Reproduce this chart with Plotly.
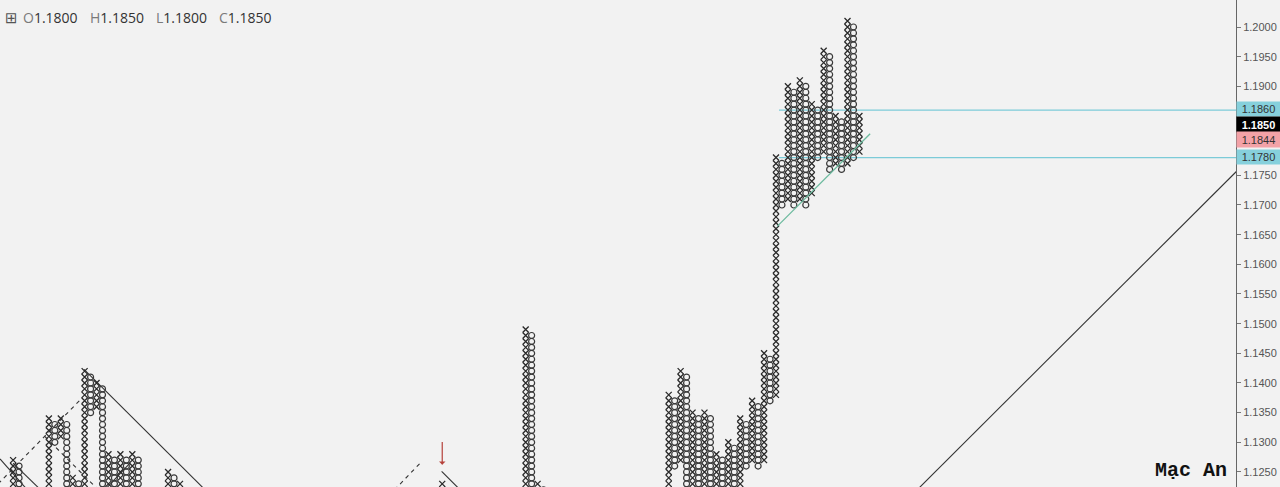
import plotly.graph_objects as go
import numpy as np

BOX = 0.001

# Point & Figure columns: index, type, low box, high box
col_index = [2, 3, 8, 9, 10, 11, 12, 13, 14, 15, 16, 17, 18, 19, 20, 21, 22, 23, 28, 29, 30,
             74, 88, 89, 90, 91,
             112, 113, 114, 115, 116, 117, 118, 119, 120, 121, 122, 123, 124, 125, 126, 127, 128, 129,
             130, 131, 132, 133, 134, 135, 136, 137, 138, 139, 140, 141, 142, 143, 144]
col_type = ["X", "O", "X", "O", "X", "O", "X", "O", "X", "O", "X", "O", "X", "O", "X", "O", "X", "O", "X", "O", "X",
            "X", "X", "O", "X", "O",
            "X", "O", "X", "O", "X", "O", "X", "O", "X", "O", "X", "O", "X", "O", "X", "O", "X", "O",
            "X", "O", "X", "O", "X", "O", "X", "O", "X", "O", "X", "O", "X", "O", "X"]
col_low = [1.120, 1.120, 1.120, 1.130, 1.131, 1.121, 1.122, 1.121, 1.122, 1.135, 1.136, 1.121, 1.122, 1.121, 1.122, 1.121, 1.122, 1.121, 1.120, 1.120, 1.120,
           1.120, 1.120, 1.122, 1.123, 1.120,
           1.120, 1.126, 1.127, 1.120, 1.121, 1.120, 1.121, 1.120, 1.121, 1.120, 1.121, 1.120, 1.121, 1.126, 1.127, 1.126, 1.127, 1.137,
           1.138, 1.170, 1.171, 1.170, 1.171, 1.170, 1.172, 1.178, 1.179, 1.176, 1.177, 1.176, 1.177, 1.178, 1.179]
col_high = [1.127, 1.126, 1.134, 1.133, 1.134, 1.133, 1.124, 1.123, 1.142, 1.141, 1.140, 1.139, 1.128, 1.127, 1.128, 1.127, 1.128, 1.127, 1.125, 1.124, 1.123,
            1.123, 1.149, 1.148, 1.123, 1.122,
            1.138, 1.137, 1.142, 1.141, 1.135, 1.134, 1.135, 1.134, 1.128, 1.127, 1.130, 1.129, 1.134, 1.133, 1.137, 1.136, 1.145, 1.144,
            1.178, 1.177, 1.190, 1.189, 1.191, 1.190, 1.187, 1.186, 1.196, 1.195, 1.185, 1.184, 1.201, 1.200, 1.185]

# Trendlines (column index, price) start/end
solid_lines = [
    ((-0.2, 1.1272), (4.2, 1.1222)),
    ((2.0, 1.1265), (6.6, 1.1220)),
    ((13.9, 1.1423), (35.0, 1.1212)),
    ((17.6, 1.1222), (21.6, 1.1265)),
    ((73.9, 1.1251), (77.2, 1.1218)),
    ((153.0, 1.1213), (208.0, 1.1764)),
]
dashed_lines = [
    ((-0.5, 1.1230), (13.6, 1.1375)),
    ((7.3, 1.1310), (16.5, 1.1218)),
    ((66.0, 1.1220), (70.6, 1.1268)),
]
green_line = ((130.2, 1.1664), (145.8, 1.1820))
hlines = [1.186, 1.178]
hline_start = 130.5

ticks = [round(1.125 + 0.005 * k, 4) for k in range(16)]
hidden_tick_labels = [1.180, 1.185]

S = 5.96
PLOT_W = 1236
x0 = -0.2
x1 = x0 + PLOT_W / S
PX = 5933.0
ytop = 1.2 + 27 / PX
ybot = ytop - 487 / PX

fig = go.Figure()

# horizontal levels (behind)
for h in hlines:
    fig.add_trace(go.Scatter(x=[hline_start, x1 + 5], y=[h, h], mode="lines",
                             line=dict(color="#7ccbd8", width=1.2), hoverinfo="skip", showlegend=False))

for (a, b) in solid_lines:
    fig.add_trace(go.Scatter(x=[a[0], b[0]], y=[a[1], b[1]], mode="lines",
                             line=dict(color="#333333", width=1.1), hoverinfo="skip", showlegend=False))
for (a, b) in dashed_lines:
    fig.add_trace(go.Scatter(x=[a[0], b[0]], y=[a[1], b[1]], mode="lines",
                             line=dict(color="#333333", width=1.1, dash="4px,4px"), hoverinfo="skip", showlegend=False))

xs_x, ys_x, xs_o, ys_o = [], [], [], []
for i, t, lo, hi in zip(col_index, col_type, col_low, col_high):
    n0 = int(round(lo / BOX))
    n1 = int(round(hi / BOX))
    for n in range(n0, n1 + 1):
        if t == "X":
            xs_x.append(i); ys_x.append(n * BOX)
        else:
            xs_o.append(i); ys_o.append(n * BOX)

fig.add_trace(go.Scatter(x=xs_o, y=ys_o, mode="markers",
                         marker=dict(symbol="circle-open", size=6, color="#3a3a3a", line=dict(width=1.2, color="#3a3a3a")),
                         hoverinfo="skip", showlegend=False))
fig.add_trace(go.Scatter(x=xs_x, y=ys_x, mode="markers",
                         marker=dict(symbol="x-thin", size=6, color="#2a2a2a", line=dict(width=1.3, color="#2a2a2a")),
                         hoverinfo="skip", showlegend=False))

fig.add_trace(go.Scatter(x=[green_line[0][0], green_line[1][0]], y=[green_line[0][1], green_line[1][1]],
                         mode="lines", line=dict(color="#6dbb9f", width=1.3), hoverinfo="skip", showlegend=False))

ann = []
# red arrow
ann.append(dict(x=74, y=1.1262, ax=74, ay=1.1303, xref="x", yref="y", axref="x", ayref="y",
                showarrow=True, arrowhead=1, arrowsize=0.9, arrowwidth=1.2, arrowcolor="#b5403a", text=""))

# axis price labels
labels = [("1.1860", 1.1862, "#86d0dc", "#333333", False, 14),
          ("1.1850", 1.18355, "#000000", "#ffffff", True, 15),
          ("1.1844", 1.18103, "#f3a2a7", "#333333", False, 15),
          ("1.1780", 1.1781, "#86d0dc", "#333333", False, 14)]
for txt, yv, bg, fc, bold, hgt in labels:
    ann.append(dict(x=1, y=yv, xref="paper", yref="y", xanchor="left", yanchor="middle",
                    text=("<b>%s</b>" % txt) if bold else txt, showarrow=False,
                    bgcolor=bg, width=43, height=hgt, borderpad=0, align="center",
                    font=dict(family="Liberation Sans, Arial", size=11, color=fc)))

# header
def px_to_paper_x(p):
    return p / PLOT_W

hy = 1 - 18 / 487
ann.append(dict(x=px_to_paper_x(3), y=hy, xref="paper", yref="paper", xanchor="left", yanchor="middle",
                text="⊞", showarrow=False, font=dict(family="DejaVu Sans", size=15, color="#555555")))
items = [("O", "1.1800", 21), ("H", "1.1850", 88), ("L", "1.1800", 154), ("C", "1.1850", 217)]
for lab, val, xp in items:
    ann.append(dict(x=px_to_paper_x(xp), y=hy, xref="paper", yref="paper", xanchor="left", yanchor="middle",
                    text="<span style='color:#7a7a7a'>%s</span>%s" % (lab, val), showarrow=False,
                    font=dict(family="Open Sans, Noto Sans", size=14, color="#333333")))

# watermark
ann.append(dict(x=px_to_paper_x(1229), y=1 - 470 / 487, xref="paper", yref="paper", xanchor="right", yanchor="middle",
                text="<b>Mạc An</b>", showarrow=False,
                font=dict(family="Liberation Mono, Courier New", size=20, color="#111111")))

fig.update_layout(
    width=1280, height=487,
    margin=dict(l=0, r=44, t=0, b=0, autoexpand=False),
    paper_bgcolor="#f2f2f2", plot_bgcolor="#f2f2f2",
    showlegend=False,
    xaxis=dict(range=[x0, x1], visible=False, fixedrange=True),
    yaxis=dict(range=[ybot, ytop], side="right", showgrid=False, zeroline=False, fixedrange=True,
               tickvals=ticks,
               ticktext=["" if any(abs(t - h) < 1e-9 for h in hidden_tick_labels) else "%.4f" % t for t in ticks],
               ticks="outside", ticklen=4, tickcolor="#777777", automargin=False,
               showline=True, linecolor="#666666", linewidth=1,
               tickfont=dict(family="Liberation Sans, Arial", size=11, color="#555555")),
    annotations=ann,
)

fig.write_html("out.html", config={"displayModeBar": False},
               post_script="document.body.style.margin='0px';document.body.style.overflow='hidden';document.body.style.background='#f2f2f2';")
